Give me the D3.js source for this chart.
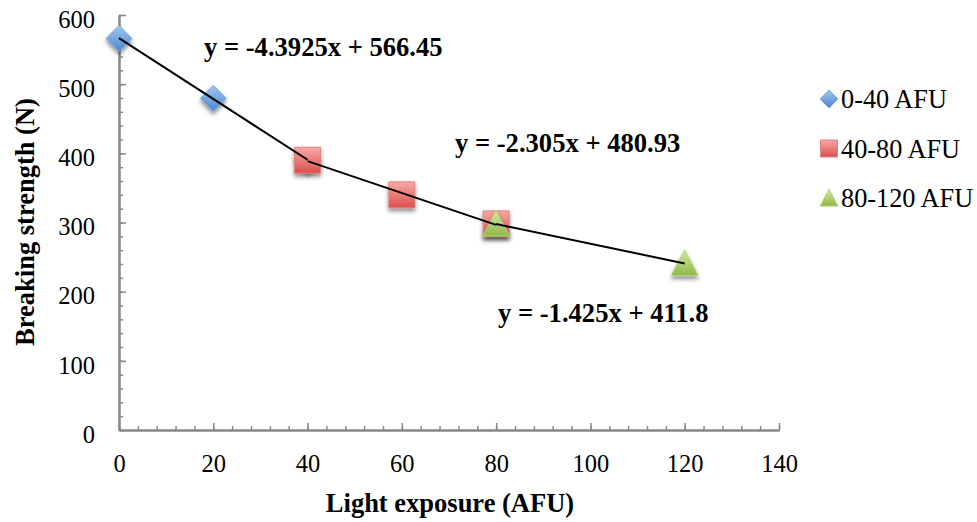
<!DOCTYPE html>
<html>
<head>
<meta charset="utf-8">
<script src="https://cdn.jsdelivr.net/npm/d3@7/dist/d3.min.js"></script>
<style>
  body { margin: 0; background: #fff; }
  svg { display: block; }
</style>
</head>
<body>
<svg id="chart" width="977" height="522"></svg>
<script>
// Breaking strength measured at each light exposure level, grouped by exposure band
const seriesNames = ["0-40 AFU", "40-80 AFU", "80-120 AFU"];
const band1X = [0, 20, 40];
const band1Y = [566, 479.5, 390.3];
const band2X = [40, 60, 80];
const band2Y = [390, 340, 298];
const band3X = [80, 120];
const band3Y = [297.8, 240.8];

// Linear trend for each band (slope, intercept) and the equation labels
const trendSlopes = [-4.3925, -2.305, -1.425];
const trendIntercepts = [566.45, 480.93, 411.8];
const trendLabels = ["y = -4.3925x + 566.45", "y = -2.305x + 480.93", "y = -1.425x + 411.8"];

const xTicks = [0, 20, 40, 60, 80, 100, 120, 140];
const yTicks = [0, 100, 200, 300, 400, 500, 600];

const FONT = "'Liberation Serif', 'Times New Roman', serif";
const svg = d3.select("#chart");
const plot = { left: 119, right: 779, top: 15, bottom: 430 };

const x = d3.scaleLinear().domain([0, 140]).range([plot.left, plot.right]);
const y = d3.scaleLinear().domain([0, 600]).range([plot.bottom, plot.top]);

const defs = svg.append("defs");
function grad(id, c1, c2) {
  const g = defs.append("linearGradient").attr("id", id)
    .attr("x1", 0).attr("y1", 0).attr("x2", 0).attr("y2", 1);
  g.append("stop").attr("offset", "0%").attr("stop-color", c1);
  g.append("stop").attr("offset", "100%").attr("stop-color", c2);
}
grad("gBlue", "#a3c6f0", "#4b86cf");
grad("gRed", "#f8a9a6", "#d9504c");
grad("gGreen", "#d3ea9f", "#8fb84a");
const shadow = defs.append("filter").attr("id", "shadow")
  .attr("x", "-50%").attr("y", "-50%").attr("width", "200%").attr("height", "200%");
shadow.append("feDropShadow").attr("dx", 0).attr("dy", 3).attr("stdDeviation", 2)
  .attr("flood-color", "#000").attr("flood-opacity", 0.45);

// Axes: ticks point into the plot
const axisColor = "#888";
const xMinor = d3.axisBottom(x).tickValues(d3.range(0, 141, 4)).tickFormat("").tickSize(-4).tickSizeOuter(0);
const yMinor = d3.axisLeft(y).tickValues(d3.range(0, 601, 20)).tickFormat("").tickSize(-4).tickSizeOuter(0);
const xAxis = d3.axisBottom(x).tickValues(xTicks).tickSize(-7).tickSizeOuter(0).tickPadding(24);
const yAxis = d3.axisLeft(y).tickValues(yTicks).tickSize(-7).tickSizeOuter(0).tickPadding(24);

function styleAxis(g) {
  g.attr("font-family", null).attr("font-size", null);
  g.select(".domain").attr("stroke", axisColor).attr("stroke-width", 2);
  g.selectAll(".tick line").attr("stroke", axisColor).attr("stroke-width", 1.5);
  g.selectAll(".tick text").style("font-family", FONT).style("font-size", "24.5px").attr("fill", "#000");
}
svg.append("g").attr("transform", `translate(0,${plot.bottom})`).call(xMinor).call(styleAxis);
svg.append("g").attr("transform", `translate(${plot.left},0)`).call(yMinor).call(styleAxis);
svg.append("g").attr("transform", `translate(0,${plot.bottom})`).call(xAxis).call(styleAxis)
  .selectAll(".tick text").attr("y", 0).attr("dy", null).attr("transform", "translate(0,42)");
svg.append("g").attr("transform", `translate(${plot.left},0)`).call(yAxis).call(styleAxis)
  .selectAll(".tick text").attr("dy", "0.5em");

// Axis titles
svg.append("text").attr("x", 450).attr("y", 512).attr("text-anchor", "middle")
  .style("font-family", FONT).style("font-size", "26.5px").style("font-weight", "bold")
  .text("Light exposure (AFU)");
svg.append("text").attr("transform", "translate(34,222) rotate(-90)").attr("text-anchor", "middle")
  .style("font-family", FONT).style("font-size", "26.5px").style("font-weight", "bold")
  .text("Breaking strength (N)");

// Marker shapes
const symDiamond = (s) => `M0,${-s}L${s},0L0,${s}L${-s},0Z`;
const symSquare = (s) => `M${-s},${-s}H${s}V${s}H${-s}Z`;
const symTriangle = (s) => `M0,${-s * 1.0}L${s},${s * 0.9}L${-s},${s * 0.9}Z`;

const series = [
  { xs: band1X, ys: band1Y, path: symDiamond(13), fill: "url(#gBlue)", stroke: "#7aa7dd" },
  { xs: band2X, ys: band2Y, path: symSquare(13), fill: "url(#gRed)", stroke: "#e4817e" },
  { xs: band3X, ys: band3Y, path: symTriangle(13.5), fill: "url(#gGreen)", stroke: "#b6d27c" }
];

series.forEach((s) => {
  svg.append("g").selectAll("path")
    .data(s.xs.map((xv, i) => [xv, s.ys[i]]))
    .join("path")
    .attr("d", s.path)
    .attr("transform", (d) => `translate(${x(d[0])},${y(d[1])})`)
    .attr("fill", s.fill)
    .attr("stroke", s.stroke)
    .attr("stroke-width", 1)
    .attr("filter", "url(#shadow)");
});

// Trend lines over each band's exposure range
const line = d3.line().x((d) => x(d[0])).y((d) => y(d[1]));
series.forEach((s, i) => {
  const x0 = d3.min(s.xs), x1 = d3.max(s.xs);
  const pts = [x0, x1].map((xv) => [xv, trendSlopes[i] * xv + trendIntercepts[i]]);
  svg.append("path").attr("d", line(pts)).attr("fill", "none")
    .attr("stroke", "#000").attr("stroke-width", 2);
});

// Equation labels
const labelPos = [[204, 56], [455, 152], [498, 322]];
trendLabels.forEach((t, i) => {
  svg.append("text").attr("x", labelPos[i][0]).attr("y", labelPos[i][1])
    .style("font-family", FONT).style("font-size", "26.6px").style("font-weight", "bold").text(t);
});

// Legend
const legendMarks = [symDiamond(9), symSquare(8.5), symTriangle(9)];
const legend = svg.append("g").attr("transform", "translate(829,99)");
seriesNames.forEach((name, i) => {
  const row = legend.append("g").attr("transform", `translate(0,${i * 49.5})`);
  row.append("path").attr("d", legendMarks[i]).attr("fill", series[i].fill).attr("stroke", series[i].stroke);
  row.append("text").attr("x", 12).attr("y", 9)
    .style("font-family", FONT).style("font-size", "26.3px").text(name);
});
</script>
</body>
</html>
